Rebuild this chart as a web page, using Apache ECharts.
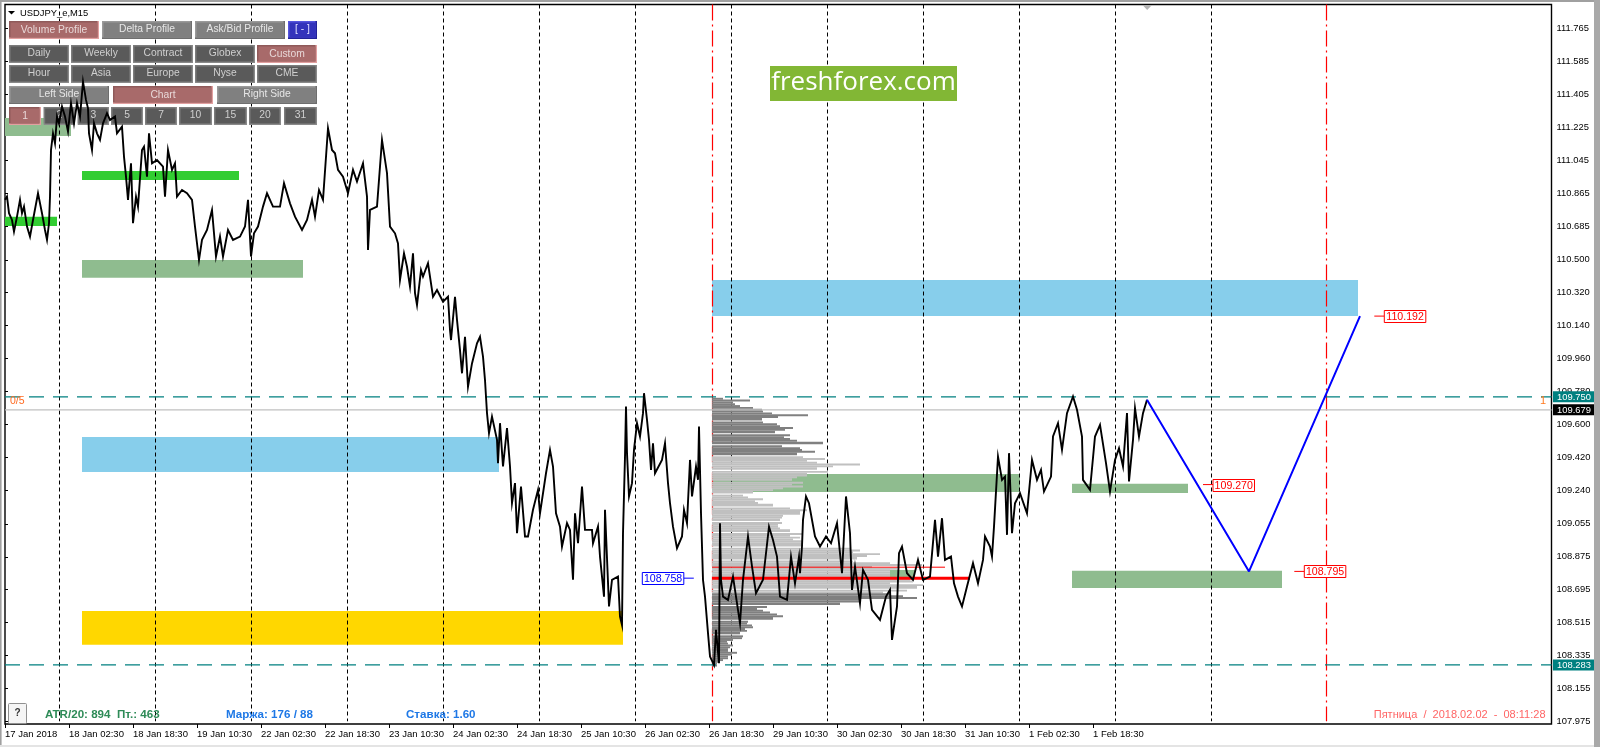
<!DOCTYPE html>
<html><head><meta charset="utf-8">
<style>html,body{margin:0;padding:0;background:#fff}#c{width:1600px;height:747px}</style>
<script src="https://cdn.jsdelivr.net/npm/echarts@6/dist/echarts.min.js"></script>
</head><body><div id="c"></div>
<script>
const priceBars=[0,2,4,7,9,12,15,17,19,22,25,28,33,37,40,42,44,45,46,48,50,52,54,57,60,63,66,69,72,75,78,81,83,84,87,89,92,95,98,102,105,110,112,117,119,121,123,126,128,131,133,137,139,142,144,147,152,158,160,163,167,170,172,177,182,187,190,194,197,202,207,211,215,218,223,228,235,240,243,246,249,253,258,262,268,275,279,285,290,297,302,307,310,314,318,323,327,330,333,338,343,348,352,358,362,363,365,372,377,382,385,390,393,
395,398,399,402,405,408,410,412,416,418,423,428,432,438,443,445,446,450,452,455,457,460,463,467,472,475,478,480,481,
482,484,487,492,493,495,498,502,505,507,510,512,516,520,523,528,533,535,541,545,548,551,555,557,562,565,568,570,573,577,580,587,588,593,595,599,600,604,607,613,615,617,618,620,621,622,624,627,629,632,635,638,639,642,644,646,648,650,657,660,663,665,668,672,677,679,682,685,687,691,693,694,696,698,700,703,705,709,711,714,715,716,718,723,728,735,738,743,747,751,758,764,768,772,775,782,786,790,794,
795,797,798,801,804,810,815,821,826,832,837,841,845,847,850,855,858,863,867,875,881,885,887,892,894,897,902,908,913,918,925,930,933,937,940,946,949,953,957,962,968,973,978,980,985,987,989,993,997,1000,1002,1004,1007,1010,1015,1022,1027,1032,1036,1039,1046,1048,1053,1057,1062,1068,1072,1077,1078,1085,1090,1095,1101,1105,1110,1114,1118,1122,1124,1128,1130,1134,1138,1142];
const priceValues=[110.828,110.846,110.755,110.718,110.654,110.736,110.828,110.755,110.791,110.682,110.627,110.718,110.864,110.755,110.663,110.609,110.700,110.846,111.101,111.192,111.138,111.284,111.247,111.338,111.284,111.202,111.357,111.247,111.357,111.284,111.475,111.375,111.329,111.192,111.101,111.247,111.192,111.156,111.247,111.302,111.265,111.284,111.192,111.229,111.065,110.955,110.828,111.028,110.700,110.846,110.791,111.101,111.119,110.955,111.192,111.028,111.046,111.010,110.846,111.101,110.992,111.028,110.846,110.882,110.864,110.828,110.682,110.499,110.609,110.663,110.773,110.518,110.627,110.518,110.663,110.609,110.627,110.682,110.828,110.518,110.645,110.682,110.791,110.864,110.791,110.791,110.919,110.809,110.736,110.663,110.718,110.828,110.736,110.882,110.828,111.220,111.101,111.083,110.992,110.955,110.864,110.992,110.928,111.028,110.846,110.554,110.773,110.791,111.156,110.974,110.682,110.645,110.590,
110.390,110.499,110.535,110.462,110.353,110.535,110.317,110.253,110.444,110.408,110.481,110.298,110.335,110.271,110.298,110.116,110.061,110.298,110.171,110.006,109.879,110.079,109.806,109.933,110.043,110.079,109.970,109.842,109.751,
109.661,109.551,109.642,109.515,109.387,109.606,109.369,109.579,109.369,109.168,109.278,109.004,109.259,108.986,108.986,109.132,109.241,109.113,109.332,109.460,109.369,109.113,109.040,108.931,109.059,109.022,108.749,109.113,108.949,109.259,109.022,109.022,108.949,109.040,108.876,108.657,109.132,108.603,108.749,108.767,108.548,108.502,109.004,109.423,109.697,109.442,109.205,109.278,109.460,109.606,109.533,109.661,109.770,109.624,109.515,109.350,109.496,109.332,109.405,109.496,109.278,109.168,109.040,108.922,108.986,109.132,109.059,109.405,109.205,109.369,109.296,109.588,109.113,108.749,108.657,108.457,108.329,108.283,108.475,108.293,109.059,108.749,108.657,108.639,108.767,108.511,108.749,108.986,108.822,108.676,108.749,109.040,108.967,108.876,108.657,108.639,108.876,108.730,108.876,
108.785,108.931,109.077,109.205,109.168,108.986,108.931,108.986,108.949,109.059,108.785,109.205,109.004,108.694,108.822,108.621,108.803,108.749,108.584,108.530,108.657,108.694,108.420,108.603,108.895,108.931,108.785,108.749,108.858,108.749,108.767,109.077,108.876,109.086,108.858,108.876,108.730,108.657,108.603,108.712,108.840,108.730,108.858,108.986,108.931,108.876,109.040,109.423,109.296,109.314,108.995,109.442,109.004,109.168,109.223,109.113,109.405,109.296,109.350,109.232,109.314,109.533,109.606,109.460,109.661,109.752,109.679,109.533,109.296,109.241,109.533,109.597,109.387,109.232,109.405,109.469,109.369,109.661,109.287,109.515,109.688,109.533,109.661,109.734];

const yTicks=[111.765,111.585,111.405,111.225,111.045,110.865,110.685,110.500,110.320,110.140,109.960,109.780,109.600,109.420,109.240,109.055,108.875,108.695,108.515,108.335,108.155,107.975];
const xTicks=[0,64,128,192,256,320,384,448,512,576,640,704,768,832,896,960,1024,1088];
const xLabels=['17 Jan 2018','18 Jan 02:30','18 Jan 18:30','19 Jan 10:30','22 Jan 02:30','22 Jan 18:30','23 Jan 10:30','24 Jan 02:30','24 Jan 18:30','25 Jan 10:30','26 Jan 02:30','26 Jan 18:30','29 Jan 10:30','30 Jan 02:30','30 Jan 18:30','31 Jan 10:30','1 Feb 02:30','1 Feb 18:30'];

const zoneStart=[0,77,0,77,707,77,77,707,1067,1067];
const zoneEnd=[66,234,52,298,1353,494,618,1015,1183,1277];
const zoneTop=[111.276,110.986,110.735,110.499,110.390,109.531,108.579,109.328,109.274,108.798];
const zoneBottom=[111.178,110.937,110.685,110.402,110.193,109.339,108.393,109.230,109.224,108.704];
const zoneKinds=['sea','lime','lime','sea','sky','sky','gold','sea','sea','sea'];
const zoneColors={sea:'#8fbc8f',lime:'#32cd32',sky:'#87ceeb',gold:'#ffd700'};

const dayLines=[54.5,150.5,246.5,342.5,438.5,534.5,630.5,726.5,822.5,918.5,1014.5,1110.5,1206.5];
const sessionLines=[707.5,1321.5];

const profileLevels=[109.74,109.73,109.72,109.71,109.70,109.69,109.68,109.67,109.66,109.65,109.64,109.63,109.62,109.61,109.60,109.59,109.58,109.57,109.56,109.55,109.54,109.53,109.52,109.51,109.50,109.49,109.48,109.47,109.46,109.45,109.44,109.43,109.42,109.41,109.40,109.39,109.38,109.37,109.36,109.35,109.34,109.33,109.32,109.31,109.30,109.29,109.28,109.27,109.26,109.25,109.24,109.23,109.22,109.21,109.20,109.19,109.18,109.17,109.16,109.15,109.14,109.13,109.12,109.11,109.10,109.09,109.08,109.07,109.06,109.05,109.04,109.03,109.02,109.01,109.00,108.99,108.98,108.97,108.96,108.95,108.94,108.93,108.92,108.91,108.90,108.89,108.88,108.87,108.86,108.85,108.84,108.83,108.82,108.81,108.80,108.79,108.78,108.77,108.76,108.75,108.74,108.73,108.72,108.71,108.70,108.69,108.68,108.67,108.66,108.65,108.64,108.63,108.62,108.61,108.60,108.59,108.58,108.57,108.56,108.55,108.54,108.53,108.52,108.51,108.50,108.49,108.48,108.47,108.46,108.45,108.44,108.43,108.42,108.41,108.40,108.39,108.38,108.37,108.36,108.35,108.34,108.33,108.32,108.31,108.30,108.29,108.28];
const profileVolumes=[11,38,21,23,28,41,50,51,60,96,66,50,0,51,65,68,81,73,63,0,78,72,78,85,111,0,70,88,90,103,85,0,91,113,95,105,148,121,105,0,116,95,95,85,80,0,91,80,91,71,61,41,0,31,36,51,43,46,61,0,78,95,88,88,71,70,68,0,70,66,66,68,78,0,90,78,88,81,90,91,91,0,138,148,141,168,155,145,0,141,178,210,160,185,178,178,181,185,191,198,201,178,211,205,0,195,171,178,191,205,148,148,128,0,55,45,51,58,65,71,61,0,36,35,40,41,33,35,28,0,31,30,21,15,16,21,18,16,16,25,20,16,16,11,8,5,5];
const valueAreaHigh=109.43, valueAreaLow=108.67;
const patchStart=[885], patchEnd=[910], patchTop=[108.803], patchBottom=[108.765];

const pocBars=[707,965], pocPrice=108.758;
const secondBars=[707,940], secondPrice=108.818;
const forecastBars=[1142,1244,1355];
const forecastPrices=[109.734,108.795,110.192];
const levelUpper=109.750, levelLower=108.283, lastPrice=109.679;
const tagValues=[109.750,109.679,108.283];
const calloutValues=[108.758,110.192,109.270,108.795];
const calloutBars=[637.3,1379.3,1208,1299.3];
const calloutSides=['right','left','left','left'];
const calloutColors=['#0000ff','#ff0000','#ff0000','#ff0000'];

const btnLabels=['Volume Profile','Delta Profile','Ask/Bid Profile','[ - ]','Daily','Weekly','Contract','Globex','Custom','Hour','Asia','Europe','Nyse','CME','Left Side','Chart','Right Side','1','2','3','5','7','10','15','20','31'];
const btnKinds=['on','mid','mid','blue','dark','dark','dark','dark','on','dark','dark','dark','dark','dark','mid','on','mid','on','dark','dark','dark','dark','dark','dark','dark','dark'];
const btnLeft=[9,102,195,288,9,71,133,195,257,9,71,133,195,257,9,113,217,9,43.7,77.7,111,145,179,214,249,284];
const btnRight=[99,192,285,317,69,131,193,255,317,69,131,193,255,317,109,213,317,41,75,109,143,177,212,247,281,317];
const btnTop=[21,21,21,21,45,45,45,45,45,65,65,65,65,65,86,86,86,107,107,107,107,107,107,107,107,107];
const btnBottom=[39,39,39,39,63,63,63,63,63,83,83,83,83,83,104,104,104,125,125,125,125,125,125,125,125,125];
const btnStyles={on:['#8f5a5a','#e2a0a0','#a86a6a','#e8d8d8'],mid:['#9a9a9a','#6e6e6e','#808080','#e6e6e6'],dark:['#7c7c7c','#8a8a8a','#5a5a5a','#cfcfcf'],blue:['#5555dd','#222299','#3333bb','#e0e0ff']};

const FONT='"Liberation Sans",Arial,sans-serif';

function rectSeries(name,z,start,end,top,bottom,colorOf){
  return {type:'custom',name,z,silent:true,clip:true,coordinateSystem:'cartesian2d',
    data:start.map((s,i)=>[s,end[i],top[i],bottom[i],i]),
    encode:{x:[0,1],y:[2,3]},
    renderItem(p,api){
      const a=api.coord([api.value(0),api.value(2)]),b=api.coord([api.value(1),api.value(3)]);
      return {type:'rect',shape:{x:a[0],y:a[1],width:b[0]-a[0],height:b[1]-a[1]},style:{fill:colorOf(api.value(4))}};
    }};
}
function vLine(bars,color,dash,z,w){
  return {type:'custom',z,silent:true,data:bars.map(b=>[b]),encode:{x:0},
    renderItem(p,api){
      const a=api.coord([api.value(0),111.897]),b=api.coord([api.value(0),107.975]);
      return {type:'line',shape:{x1:a[0],y1:a[1],x2:b[0],y2:b[1]},style:{stroke:color,lineWidth:w,lineDash:dash}};
    }};
}
function hLine(price,color,w,dash,z){
  return {type:'line',z,silent:true,symbol:'none',animation:false,data:[[0,price],[1546.5,price]],lineStyle:{color,width:w,type:dash}};
}

const g=[];
g.push({type:'rect',shape:{x:0,y:0,width:1600,height:2},style:{fill:'#a0a0a0'},z:9});
g.push({type:'rect',shape:{x:0,y:0,width:1.6,height:745},style:{fill:'#a0a0a0'},z:9});
g.push({type:'rect',shape:{x:1594,y:0,width:6,height:747},style:{fill:'#a9a9a9'},z:9});
g.push({type:'rect',shape:{x:0,y:745,width:1594,height:2},style:{fill:'#e4e4e4'},z:9});
g.push({type:'polygon',shape:{points:[[1142.5,5],[1152,5],[1147.2,10]]},style:{fill:'#b4b4b4'},z:9});
btnLabels.forEach((t,i)=>{
  const s=btnStyles[btnKinds[i]],x=btnLeft[i],y=btnTop[i],w=btnRight[i]-x,h=btnBottom[i]-y;
  g.push({type:'rect',z:3,shape:{x,y,width:w,height:h},style:{fill:s[1]}});
  g.push({type:'rect',z:3,shape:{x,y,width:w-1.5,height:h-1.5},style:{fill:s[0]}});
  g.push({type:'rect',z:3,shape:{x:x+1.5,y:y+1.5,width:w-3,height:h-3},style:{fill:s[2]}});
  g.push({type:'text',z:3,x:x+w/2,y:y+h/2+(btnKinds[i]==='on'?.5:-.5),style:{text:t,fill:s[3],font:'10.3px '+FONT,align:'center',verticalAlign:'middle'}});
});
function txt(t,x,y,fill,font,align){g.push({type:'text',z:10,x,y,style:{text:t,fill,font,align:align||'left',verticalAlign:'middle'}});}
g.push({type:'polygon',z:10,shape:{points:[[8,11],[15,11],[11.5,14.5]]},style:{fill:'#000'}});
txt('USDJPY_e,M15',20,13,'#000','9.4px '+FONT);
g.push({type:'rect',z:3,shape:{x:770,y:66,width:187,height:35},style:{fill:'#82b735'}});
g.push({type:'text',z:3,x:863.5,y:82.5,style:{text:'freshforex.com',fill:'#fff',font:'26px "Open Sans",sans-serif',align:'center',verticalAlign:'middle'}});
g.push({type:'rect',z:3,shape:{x:8.5,y:703.5,width:18,height:20,r:1},style:{fill:'#f5f5f5',stroke:'#909090',lineWidth:1}});
txt('?',17.5,713,'#333','bold 10px '+FONT,'center');
txt('ATR/20: 894  Пт.: 463',45,715,'#2e8b57','bold 11.6px '+FONT);
txt('Маржа: 176 / 88',226,715,'#1e78e6','bold 11.6px '+FONT);
txt('Ставка: 1.60',406,715,'#1e78e6','bold 11.6px '+FONT);
txt('Пятница  /  2018.02.02  -  08:11:28',1545.5,714.5,'#ff6464','11px '+FONT,'right');
txt('0/5',10,401,'#ff6a20','10.5px '+FONT);
txt('1',1540,401,'#ff7a20','11px '+FONT);

const option={
  animation:false,
  backgroundColor:'#fff',
  grid:{left:5,top:4.5,width:1546.5,height:719.5,show:true,borderColor:'#000',borderWidth:1.4,backgroundColor:'transparent',containLabel:false},
  xAxis:{type:'value',min:0,max:1546.5,splitLine:{show:false},axisLine:{show:false},
    axisTick:{show:true,length:4,customValues:xTicks,lineStyle:{color:'#000',width:1}},
    axisLabel:{customValues:xTicks,margin:5,align:'left',fontFamily:FONT,fontSize:9.5,color:'#000',formatter:v=>xLabels[xTicks.indexOf(v)]||''}},
  yAxis:{type:'value',position:'right',min:107.96,max:111.897,splitLine:{show:false},axisLine:{show:false},
    axisTick:{show:true,length:3,customValues:yTicks,lineStyle:{color:'#000',width:1}},
    axisLabel:{customValues:yTicks,margin:5,fontFamily:FONT,fontSize:9.4,color:'#000',formatter:v=>v.toFixed(3)}},
  graphic:{elements:g},
  series:[
    rectSeries('zones',1,zoneStart,zoneEnd,zoneTop,zoneBottom,i=>zoneColors[zoneKinds[i]]),
    vLine(dayLines,'#000',[4,3],2,1),
    vLine(sessionLines,'#ff0000',[16,4,2,4],2,1.2),
    {type:'custom',name:'profile',z:4,silent:true,
      data:profileLevels.map((p,i)=>[707,p,profileVolumes[i],profileVolumes[i+1]===0?1:0]),
      encode:{x:0,y:1},
      renderItem(par,api){
        const v=api.value(2); if(!v) return null;
        const p=api.value(1);
        const a=api.coord([707,p+.005]),b=api.coord([707+v,p-.005]);
        return {type:'rect',shape:{x:a[0],y:a[1],width:b[0]-a[0],height:b[1]-a[1]+(api.value(3)?.8:.1)},
          style:{fill:(p>=valueAreaHigh||p<=valueAreaLow)?'#808080':'#c0c0c0'}};
      }},
    rectSeries('patch',4,patchStart,patchEnd,patchTop,patchBottom,()=>'#8fbc8f'),
    hLine(lastPrice,'#c0c0c0',1.2,'solid',4),
    hLine(levelUpper,'#008080',1.3,[15,9],4),
    hLine(levelLower,'#008080',1.3,[15,9],4),
    {type:'line',z:4,silent:true,symbol:'none',data:pocBars.map(b=>[b,pocPrice]),lineStyle:{color:'#ff0000',width:3}},
    {type:'line',z:4,silent:true,symbol:'none',data:secondBars.map(b=>[b,secondPrice]),lineStyle:{color:'#ff0000',width:1}},
    {type:'line',name:'USDJPY',z:5,silent:true,symbol:'none',sampling:null,data:priceBars.map((b,i)=>[b,priceValues[i]]),lineStyle:{color:'#000',width:1.9,join:'miter'}},
    {type:'line',name:'forecast',z:6,silent:true,symbol:'none',data:forecastBars.map((b,i)=>[b,forecastPrices[i]]),lineStyle:{color:'#0000ff',width:2}},
    {type:'custom',name:'callouts',z:7,silent:true,
      data:calloutValues.map((v,i)=>[calloutBars[i],v,i]),encode:{x:0,y:1},
      renderItem(par,api){
        const i=api.value(2),c=api.coord([api.value(0),api.value(1)]),col=calloutColors[i];
        const w=41.5,h=12,x=c[0],y=Math.round(c[1]-h/2)+.5;
        const lx=calloutSides[i]==='right'?[x+w,x+w+10]:[x-10,x];
        return {type:'group',children:[
          {type:'line',shape:{x1:lx[0],y1:c[1],x2:lx[1],y2:c[1]},style:{stroke:col,lineWidth:1}},
          {type:'rect',shape:{x,y,width:w,height:h},style:{fill:'#fff',stroke:col,lineWidth:1}},
          {type:'text',x:x+w/2,y:y+h/2+.3,style:{text:api.value(1).toFixed(3),fill:col,font:'10.6px '+FONT,align:'center',verticalAlign:'middle'}}
        ]};
      }},
    {type:'custom',name:'tags',z:8,silent:true,clip:false,
      data:tagValues.map(v=>[1546.5,v]),encode:{x:0,y:1},
      renderItem(par,api){
        const v=api.value(1),c=api.coord([1546.5,v]),col=v===lastPrice?'#000':'#008080';
        return {type:'group',children:[
          {type:'rect',shape:{x:c[0]+1.5,y:c[1]-5.5,width:41.5,height:11},style:{fill:col}},
          {type:'text',x:c[0]+5.5,y:c[1]+.3,style:{text:v.toFixed(3),fill:'#fff',font:'9.4px '+FONT,align:'left',verticalAlign:'middle'}}
        ]};
      }}
  ]
};
echarts.init(document.getElementById('c')).setOption(option);
</script></body></html>
